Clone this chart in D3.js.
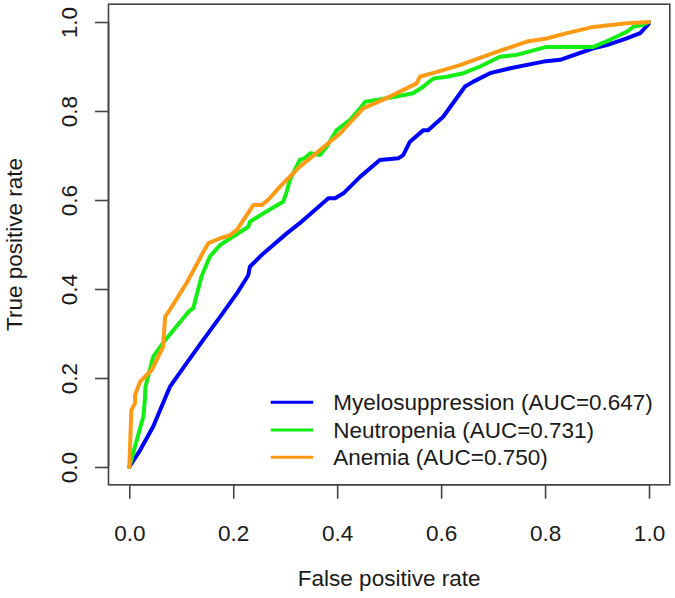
<!DOCTYPE html>
<html>
<head>
<meta charset="utf-8">
<script src="https://cdn.jsdelivr.net/npm/d3@7"></script>
<style>
  html, body { margin: 0; padding: 0; background: #fff; }
  svg { display: block; }
  text { font-family: "Liberation Sans", Arial, sans-serif; fill: #1a1a1a; }
</style>
</head>
<body>
<svg id="chart" width="675" height="598"></svg>
<script>
// ---- data ----
const seriesNames = ["Myelosuppression (AUC=0.647)", "Neutropenia (AUC=0.731)", "Anemia (AUC=0.750)"];
const seriesColors = ["#0000FF", "#14EE14", "#FF9A14"];

const myeloFpr = [0, 0.021, 0.046, 0.078, 0.110, 0.142, 0.175, 0.207, 0.229, 0.232, 0.258, 0.303, 0.328, 0.383, 0.396, 0.412, 0.444, 0.482, 0.518, 0.527, 0.540, 0.566, 0.575, 0.604, 0.646, 0.662, 0.694, 0.733, 0.797, 0.829, 0.893, 0.919, 0.957, 0.983, 0.999, 1];
const myeloTpr = [0, 0.038, 0.091, 0.180, 0.233, 0.285, 0.338, 0.390, 0.431, 0.450, 0.480, 0.525, 0.548, 0.604, 0.604, 0.615, 0.652, 0.690, 0.694, 0.701, 0.731, 0.757, 0.757, 0.787, 0.855, 0.866, 0.885, 0.896, 0.911, 0.915, 0.941, 0.948, 0.963, 0.975, 0.995, 1];

const neutroFpr = [0, 0.027, 0.030, 0.031, 0.046, 0.069, 0.114, 0.123, 0.139, 0.155, 0.175, 0.200, 0.229, 0.232, 0.258, 0.296, 0.303, 0.309, 0.328, 0.338, 0.348, 0.367, 0.380, 0.399, 0.425, 0.447, 0.454, 0.476, 0.511, 0.546, 0.566, 0.585, 0.611, 0.643, 0.675, 0.713, 0.745, 0.803, 0.893, 0.925, 0.957, 0.970, 0.986, 1];
const neutroTpr = [0, 0.113, 0.151, 0.180, 0.248, 0.285, 0.349, 0.357, 0.428, 0.473, 0.499, 0.518, 0.540, 0.551, 0.570, 0.596, 0.619, 0.645, 0.690, 0.694, 0.705, 0.701, 0.720, 0.757, 0.780, 0.810, 0.821, 0.825, 0.832, 0.840, 0.855, 0.873, 0.877, 0.885, 0.900, 0.922, 0.926, 0.944, 0.944, 0.960, 0.978, 0.989, 0.993, 1];

const anemiaFpr = [0, 0.004, 0.011, 0.011, 0.021, 0.043, 0.065, 0.069, 0.078, 0.110, 0.146, 0.152, 0.175, 0.194, 0.207, 0.239, 0.255, 0.267, 0.290, 0.328, 0.367, 0.406, 0.450, 0.495, 0.553, 0.559, 0.592, 0.636, 0.700, 0.765, 0.803, 0.842, 0.893, 0.957, 1];
const anemiaTpr = [0, 0.128, 0.143, 0.162, 0.192, 0.218, 0.270, 0.338, 0.353, 0.413, 0.491, 0.503, 0.514, 0.521, 0.533, 0.589, 0.589, 0.600, 0.630, 0.675, 0.712, 0.750, 0.806, 0.829, 0.862, 0.877, 0.888, 0.903, 0.930, 0.956, 0.963, 0.975, 0.989, 0.997, 1];

const tickValues = [0, 0.2, 0.4, 0.6, 0.8, 1.0];
const tickLabels = ["0.0", "0.2", "0.4", "0.6", "0.8", "1.0"];
const xTitle = "False positive rate";
const yTitle = "True positive rate";

// ---- drawing ----
const svg = d3.select("#chart");
const FS = 22.5;

const x = d3.scaleLinear().domain([-0.04, 1.04]).range([108.5, 669.8]);
const y = d3.scaleLinear().domain([-0.04, 1.04]).range([484.8, 4.2]);

const series = [
  { name: seriesNames[0], color: seriesColors[0], fpr: myeloFpr, tpr: myeloTpr },
  { name: seriesNames[1], color: seriesColors[1], fpr: neutroFpr, tpr: neutroTpr },
  { name: seriesNames[2], color: seriesColors[2], fpr: anemiaFpr, tpr: anemiaTpr }
];

const line = d3.line().x(d => x(d[0])).y(d => y(d[1]));

svg.append("g").selectAll("path")
  .data(series)
  .join("path")
  .attr("d", s => line(s.fpr.map((f, i) => [f, s.tpr[i]])))
  .attr("fill", "none")
  .attr("stroke", s => s.color)
  .attr("stroke-width", 4)
  .attr("stroke-linejoin", "round")
  .attr("stroke-linecap", "round");

// box
svg.append("rect")
  .attr("x", x(-0.04)).attr("y", y(1.04))
  .attr("width", x(1.04) - x(-0.04))
  .attr("height", y(-0.04) - y(1.04))
  .attr("fill", "none").attr("stroke", "#444").attr("stroke-width", 1.6);

// x axis
const xAxis = d3.axisBottom(x).tickValues(tickValues)
  .tickFormat((d, i) => tickLabels[i]).tickSize(14).tickPadding(22);
const gx = svg.append("g").attr("transform", `translate(0,${y(-0.04)})`).call(xAxis);
gx.select(".domain").attr("stroke", "#444").attr("stroke-width", 1.6)
  .attr("d", `M${x(0)},0H${x(1)}`);
gx.selectAll(".tick line").attr("stroke", "#444").attr("stroke-width", 1.6);
gx.selectAll(".tick text").attr("font-size", FS).attr("font-family", "Liberation Sans, Arial, sans-serif")
  .attr("fill", "#1a1a1a").attr("dy", null).attr("y", 56);

// y axis
const yAxis = d3.axisLeft(y).tickValues(tickValues)
  .tickFormat((d, i) => tickLabels[i]).tickSize(13.5);
const gy = svg.append("g").attr("transform", `translate(${x(-0.04)},0)`).call(yAxis);
gy.select(".domain").attr("stroke", "#444").attr("stroke-width", 1.6)
  .attr("d", `M0,${y(0)}V${y(1)}`);
gy.selectAll(".tick line").attr("stroke", "#444").attr("stroke-width", 1.6);
gy.selectAll(".tick text")
  .attr("font-size", FS).attr("font-family", "Liberation Sans, Arial, sans-serif")
  .attr("fill", "#1a1a1a")
  .attr("x", null).attr("dy", null)
  .attr("text-anchor", "middle")
  .attr("transform", "translate(-32,0) rotate(-90)");

// titles
svg.append("text")
  .attr("x", (x(-0.04) + x(1.04)) / 2).attr("y", 586)
  .attr("text-anchor", "middle").attr("font-size", FS)
  .text(xTitle);
svg.append("text")
  .attr("transform", `translate(22,${(y(-0.04) + y(1.04)) / 2}) rotate(-90)`)
  .attr("text-anchor", "middle").attr("font-size", FS)
  .text(yTitle);

// legend
const legendRowY = [402.3, 430, 457.3];
const lg = svg.append("g");
series.forEach((s, i) => {
  lg.append("line")
    .attr("x1", 270.7).attr("x2", 313.3)
    .attr("y1", legendRowY[i]).attr("y2", legendRowY[i])
    .attr("stroke", s.color).attr("stroke-width", 3);
  lg.append("text")
    .attr("x", 333.3).attr("y", legendRowY[i] + 7.5)
    .attr("font-size", FS)
    .text(s.name);
});
</script>
</body>
</html>
